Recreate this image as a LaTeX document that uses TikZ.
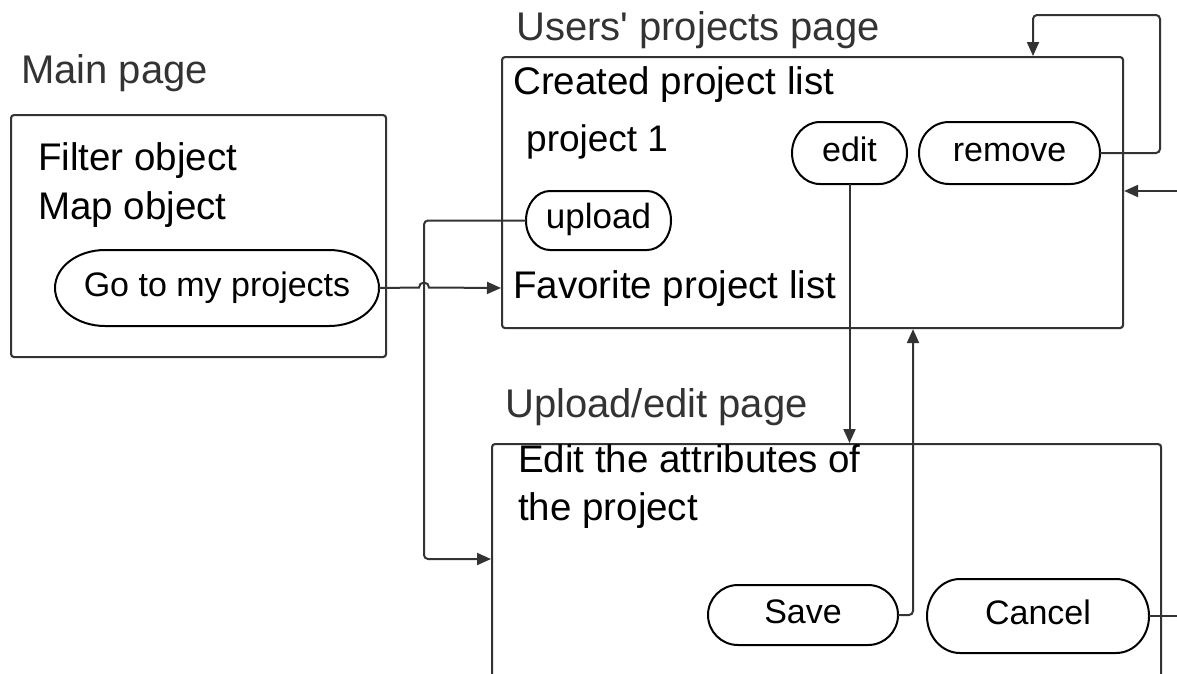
\documentclass[tikz,border=0pt]{standalone}
\usepackage{fontspec}
\setmainfont{Liberation Sans}
\usetikzlibrary{arrows.meta}
\definecolor{ln}{HTML}{333333}
\tikzset{
 pagebox/.style={draw=ln, line width=2.1pt, rounded corners=3pt, inner sep=0pt, anchor=north west},
 pagelabel/.style={text=ln, font=\fontsize{40}{48}\selectfont, anchor=base west, inner sep=0pt},
 body/.style={font=\fontsize{38.5}{46}\selectfont, anchor=base west, inner sep=0pt},
 pilltext/.style={inner sep=0pt, text height=24.5pt, text depth=8pt},
 pillline/.style={draw=black, line width=2pt},
 conn/.style={draw=ln, line width=2pt, rounded corners=4pt},
 arr/.style={-{Triangle[length=14pt,width=12pt]}},
}
\newcommand\pill[8]{%
 \node[pilltext, minimum width={#4-#2}, minimum height={#5-#3}, font=\fontsize{#8}{#8}\selectfont] (#1) at ({(#2+#4)/2},{(#3+#5)/2}) {#7};
 \draw[pillline] ({#2+#6},#3) -- ({#4-#6},#3) arc[start angle=-90,end angle=90,x radius=#6,y radius={(#5-#3)/2}] -- ({#2+#6},#5) arc[start angle=90,end angle=270,x radius=#6,y radius={(#5-#3)/2}] -- cycle;
}
\begin{document}
\begin{tikzpicture}[x=1pt,y=-1pt]
\useasboundingbox (0,0) rectangle (1177,673);
% page boxes
\node[pagebox, minimum width=375, minimum height=242] (mainbox) at (10,114) {};
\node[pagebox, minimum width=621, minimum height=271] (usersbox) at (501,56) {};
\node[pagebox, minimum width=669, minimum height=280] (uploadbox) at (491,443) {};
% page labels
\node[pagelabel] (lmain) at (21,83) {Main page};
\node[pagelabel] (lusers) at (516,40) {Users\textquotesingle{} projects page};
\node[pagelabel] (lupload) at (505,417) {Upload/edit page};
% body texts
\node[body] (filter) at (38,170) {Filter object};
\node[body] (map) at (38,219) {Map object};
\node[body] (created) at (513,94) {Created project list};
\node[body, font=\fontsize{37}{44}\selectfont] (proj1) at (526,151) {project 1};
\node[body] (fav) at (513,298) {Favorite project list};
\node[body] (edit1) at (518,472) {Edit the attributes of};
\node[body] (edit2) at (518,520) {the project};
% pills
\pill{gotoproj}{55}{250}{379}{326}{50}{Go to my projects}{34}
\pill{upload}{526}{191}{671}{250}{24}{upload}{35}
\pill{edit}{792}{122}{907}{184}{28}{edit}{34}
\pill{remove}{919}{122}{1100}{184}{30}{remove}{34}
\pill{save}{708}{585}{898}{645}{30}{Save}{34}
\pill{cancel}{927}{579}{1149}{653}{33}{Cancel}{34}
% connectors
\draw[conn, arr, sharp corners] (gotoproj.east) -- (419,287.5) arc[start angle=180,end angle=360,radius=5] -- (usersbox.west |- gotoproj.east);
\coordinate (j1) at (424,559);
\draw[conn, arr] (upload.west) -- (424,220.5) -- (j1) -- (j1 -| uploadbox.west);
\draw[conn, arr] (edit.south) -- (edit.south |- uploadbox.north);
\coordinate (j2) at (913,615);
\draw[conn, arr] (save.east) -- (j2) -- (j2 |- usersbox.south);
\coordinate (j3) at (1033,15);
\draw[conn, arr] (remove.east) -- (1160,153) -- (1160,15) -- (j3) -- (j3 |- usersbox.north);
\coordinate (rin) at (1177,191);
\draw[conn, arr] (rin) -- (rin -| usersbox.east);
\coordinate (cout) at (1177,616);
\draw[conn] (cancel.east) -- (cout);
\end{tikzpicture}
\end{document}
